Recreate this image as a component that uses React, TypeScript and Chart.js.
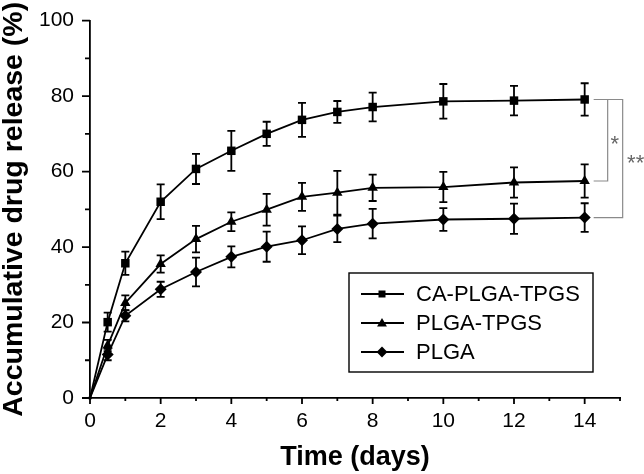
import React, { useEffect, useRef } from 'react';
import { Chart, registerables } from 'chart.js';

Chart.register(...registerables);

const days = [0, 0.5, 1, 2, 3, 4, 5, 6, 7, 8, 10, 12, 14];

const caPlgaTpgs = [0, 20.1, 35.7, 52.0, 60.7, 65.5, 70.0, 73.7, 75.8, 77.1, 78.6, 78.8, 79.1];
const caPlgaTpgsErr = [0, 2.5, 3.1, 4.6, 4.0, 5.3, 3.2, 4.5, 2.9, 3.8, 4.6, 3.9, 4.3];

const plgaTpgs = [0, 13.9, 25.2, 35.5, 42.1, 46.7, 49.9, 53.3, 54.4, 55.7, 55.9, 57.1, 57.5];
const plgaTpgsErr = [0, 1.5, 2.0, 2.3, 3.5, 2.5, 4.2, 3.7, 5.8, 3.5, 4.0, 4.0, 4.4];

const plga = [0, 11.5, 21.8, 28.8, 33.4, 37.4, 40.1, 41.8, 44.8, 46.2, 47.3, 47.5, 47.8];
const plgaErr = [0, 1.5, 1.5, 2.0, 3.8, 2.8, 4.0, 3.7, 3.5, 3.9, 3.0, 4.0, 3.8];

const seriesLabels = ['CA-PLGA-TPGS', 'PLGA-TPGS', 'PLGA'];
const seriesValues = [caPlgaTpgs, plgaTpgs, plga];
const seriesErrors = [caPlgaTpgsErr, plgaTpgsErr, plgaErr];
const seriesMarkers = ['rect', 'triangle', 'rectRot'];

const xTickLabels = ['0', '2', '4', '6', '8', '10', '12', '14'];
const yTickLabels = ['0', '20', '40', '60', '80', '100'];

const xTitle = 'Time (days)';
const yTitle = 'Accumulative drug release (%)';
const sigLabels = ['*', '**'];

const FONT = "Arial, 'Liberation Sans', sans-serif";

const errorBarPlugin = {
  id: 'errorBars',
  beforeDatasetsDraw(chart: any) {
    const ctx = chart.ctx;
    const y = chart.scales.y;
    ctx.save();
    ctx.strokeStyle = '#000';
    ctx.lineWidth = 1.8;
    chart.data.datasets.forEach((ds: any, i: number) => {
      const meta = chart.getDatasetMeta(i);
      const errs = seriesErrors[i];
      meta.data.forEach((pt: any, j: number) => {
        const e = errs[j];
        if (!e) return;
        const v = ds.data[j].y;
        const top = y.getPixelForValue(v + e);
        const bot = y.getPixelForValue(v - e);
        const x = pt.x;
        ctx.beginPath();
        ctx.moveTo(x, top);
        ctx.lineTo(x, bot);
        ctx.moveTo(x - 4, top);
        ctx.lineTo(x + 4, top);
        ctx.moveTo(x - 4, bot);
        ctx.lineTo(x + 4, bot);
        ctx.stroke();
      });
    });
    ctx.restore();
  },
};

function drawMarker(ctx: any, style: string, x: number, y: number, r: number) {
  ctx.beginPath();
  if (style === 'rect') {
    ctx.rect(x - r, y - r, 2 * r, 2 * r);
  } else if (style === 'triangle') {
    ctx.moveTo(x, y - r * 1.1);
    ctx.lineTo(x + r * 1.1, y + r * 0.8);
    ctx.lineTo(x - r * 1.1, y + r * 0.8);
    ctx.closePath();
  } else {
    ctx.moveTo(x, y - r * 1.2);
    ctx.lineTo(x + r * 1.2, y);
    ctx.lineTo(x, y + r * 1.2);
    ctx.lineTo(x - r * 1.2, y);
    ctx.closePath();
  }
  ctx.fill();
}

const decorPlugin = {
  id: 'decor',
  afterDraw(chart: any) {
    const ctx = chart.ctx;
    const xs = chart.scales.x;
    const ys = chart.scales.y;
    const ca = chart.chartArea;
    ctx.save();
    // tick marks
    ctx.strokeStyle = '#000';
    ctx.lineWidth = 1.8;
    ctx.beginPath();
    ys.ticks.forEach((t: any) => {
      const py = ys.getPixelForValue(t.value);
      const len = yTickLabels.includes(String(t.value)) ? 8 : 5;
      ctx.moveTo(ca.left - len, py);
      ctx.lineTo(ca.left, py);
    });
    xs.ticks.forEach((t: any) => {
      const px = xs.getPixelForValue(t.value);
      const len = t.value % 2 === 0 ? 6 : 3;
      ctx.moveTo(px, ca.bottom);
      ctx.lineTo(px, ca.bottom + len);
    });
    ctx.stroke();

    // legend
    const lx = 349, ly = 273, lw = 244, lh = 99;
    ctx.lineWidth = 1.4;
    ctx.strokeRect(lx, ly, lw, lh);
    const rows = [294, 323, 352];
    ctx.font = `22px ${FONT}`;
    ctx.textBaseline = 'middle';
    ctx.textAlign = 'left';
    ctx.fillStyle = '#000';
    seriesLabels.forEach((lab, i) => {
      const ry = rows[i];
      ctx.beginPath();
      ctx.lineWidth = 1.8;
      ctx.moveTo(361, ry);
      ctx.lineTo(404, ry);
      ctx.stroke();
      drawMarker(ctx, seriesMarkers[i], 382, ry, i === 0 ? 3.5 : 4.5);
      ctx.fillText(lab, 416, ry + 1);
    });

    // significance brackets
    const x14 = xs.getPixelForValue(14);
    const yCa = ys.getPixelForValue(caPlgaTpgs[caPlgaTpgs.length - 1]);
    const yTp = ys.getPixelForValue(plgaTpgs[plgaTpgs.length - 1]);
    const yPl = ys.getPixelForValue(plga[plga.length - 1]);
    ctx.strokeStyle = '#8a8a8a';
    ctx.lineWidth = 1.2;
    ctx.beginPath();
    ctx.moveTo(x14 + 9, yCa);
    ctx.lineTo(x14 + 38, yCa);
    ctx.lineTo(x14 + 38, yPl);
    ctx.lineTo(x14 + 9, yPl);
    ctx.moveTo(x14 + 23, yCa);
    ctx.lineTo(x14 + 23, yTp);
    ctx.lineTo(x14 + 9, yTp);
    ctx.stroke();
    ctx.fillStyle = '#666';
    ctx.font = `22px ${FONT}`;
    ctx.textAlign = 'center';
    ctx.fillText(sigLabels[0], x14 + 30, (yCa + yTp) / 2 + 5);
    ctx.fillText(sigLabels[1], x14 + 51, (yCa + yPl) / 2 + 5);
    ctx.restore();
  },
};

export default function App() {
  const ref = useRef<HTMLCanvasElement | null>(null);
  useEffect(() => {
    if (!ref.current) return;
    const datasets = seriesLabels.map((label, i) => ({
      label,
      data: days.map((d, j) => ({ x: d, y: seriesValues[i][j] })),
      borderColor: '#000',
      backgroundColor: '#000',
      borderWidth: 1.8,
      pointStyle: seriesMarkers[i],
      pointRadius: days.map((d) => (d === 0 ? 2 : i === 0 ? 6 : 6)),
      pointBorderWidth: 0,
      pointBackgroundColor: '#000',
      tension: 0,
      clip: false,
    }));
    const chart = new Chart(ref.current, {
      type: 'line',
      data: { datasets },
      options: {
        responsive: false,
        animation: false,
        events: [],
        layout: { padding: { left: 0, top: 9, right: 24, bottom: 0 } },
        plugins: { legend: { display: false }, tooltip: { enabled: false } },
        scales: {
          x: {
            type: 'linear',
            min: 0,
            max: 15,
            grid: { display: true, drawOnChartArea: false, color: 'transparent', tickLength: 6 },
            border: { display: true, color: '#000', width: 1.8 },
            ticks: {
              stepSize: 1,
              autoSkip: false,
              maxRotation: 0,
              padding: 5,
              color: '#000',
              font: { family: FONT, size: 21 },
              callback: (v: any) => (xTickLabels.includes(String(v)) ? String(v) : ''),
            },
            title: {
              display: true,
              text: xTitle,
              color: '#000',
              font: { family: FONT, size: 27, weight: 'bold', lineHeight: 1 },
              padding: { top: 0, bottom: 3 },
            },
            afterFit: (s: any) => {
              s.height = 76;
            },
          },
          y: {
            type: 'linear',
            min: 0,
            max: 100,
            grid: { display: true, drawOnChartArea: false, color: 'transparent', tickLength: 8 },
            border: { display: true, color: '#000', width: 1.8 },
            ticks: {
              stepSize: 10,
              autoSkip: false,
              padding: 8,
              color: '#000',
              font: { family: FONT, size: 21 },
              callback: (v: any) => (yTickLabels.includes(String(v)) ? String(v) : ''),
            },
            title: {
              display: true,
              text: yTitle,
              color: '#000',
              font: { family: FONT, size: 28.5, weight: 'bold', lineHeight: 1 },
              padding: { top: 0, bottom: 0 },
            },
            afterFit: (s: any) => {
              s.width = 90;
            },
          },
        },
      },
      plugins: [errorBarPlugin, decorPlugin],
    } as any);
    return () => chart.destroy();
  }, []);
  return (
    <div style={{ position: 'absolute', left: 0, top: 0, width: 644, height: 474, background: '#fff' }}>
      <canvas ref={ref} width={644} height={474} />
    </div>
  );
}
